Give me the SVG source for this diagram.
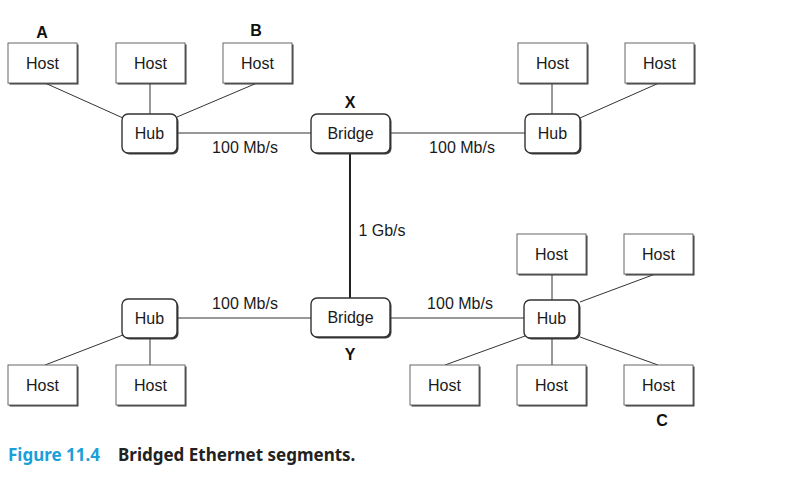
<svg xmlns="http://www.w3.org/2000/svg" width="798" height="481" viewBox="0 0 798 481">
<style>
.sh{fill:#3a3a3a}
.host{fill:#fff;stroke:#666;stroke-width:1}
.dev{fill:#fff;stroke:#333;stroke-width:1.4}
.t{font-family:"Liberation Sans",Arial,sans-serif;font-size:16px;fill:#1a1a1a;text-anchor:middle}
.lb{font-family:"Liberation Sans",Arial,sans-serif;font-size:16px;font-weight:bold;fill:#111;text-anchor:middle}
.ln{stroke:#333;stroke-width:1;fill:none}
.cap{font-family:"Noto Sans","Open Sans",sans-serif;font-size:17px;font-weight:bold}
</style>
<defs>
<g id="hostbox"><rect class="sh" x="1.5" y="1.5" width="69" height="40"/><rect class="host" x="0" y="0" width="69" height="40"/><text class="t" x="34.5" y="25.5">Host</text></g>
</defs>
<rect width="798" height="481" fill="#fff"/>
<g id="connectors">
<line class="ln" x1="45" y1="83" x2="123" y2="118"/>
<line class="ln" x1="150" y1="83" x2="150" y2="114"/>
<line class="ln" x1="257" y1="83" x2="177" y2="117"/>
<line class="ln" x1="177" y1="133" x2="311" y2="133"/>
<line class="ln" x1="390" y1="133" x2="525" y2="133"/>
<line x1="350" y1="153" x2="350" y2="298" stroke="#222" stroke-width="2"/>
<line class="ln" x1="552" y1="83" x2="552" y2="114"/>
<line class="ln" x1="659" y1="83" x2="580" y2="118"/>
<line class="ln" x1="123" y1="335" x2="45" y2="365"/>
<line class="ln" x1="150" y1="338" x2="150" y2="365"/>
<line class="ln" x1="177" y1="318" x2="311" y2="318"/>
<line class="ln" x1="390" y1="318" x2="524" y2="318"/>
<line class="ln" x1="552" y1="273" x2="552" y2="300"/>
<line class="ln" x1="658" y1="273" x2="580" y2="302"/>
<line class="ln" x1="525" y1="336" x2="445" y2="365"/>
<line class="ln" x1="552" y1="338" x2="552" y2="365"/>
<line class="ln" x1="580" y1="337" x2="658" y2="365"/>
</g>
<g id="host-a"><use href="#hostbox" x="8" y="43"/></g>
<g id="host-2"><use href="#hostbox" x="116" y="43"/></g>
<g id="host-b"><use href="#hostbox" x="223" y="43"/></g>
<g id="host-tr1"><use href="#hostbox" x="518" y="43"/></g>
<g id="host-tr2"><use href="#hostbox" x="625" y="43"/></g>
<g id="host-bl1"><use href="#hostbox" x="8" y="365"/></g>
<g id="host-bl2"><use href="#hostbox" x="116" y="365"/></g>
<g id="host-br-u1"><use href="#hostbox" x="517" y="234"/></g>
<g id="host-br-u2"><use href="#hostbox" x="624" y="234"/></g>
<g id="host-br1"><use href="#hostbox" x="410" y="365"/></g>
<g id="host-br2"><use href="#hostbox" x="517" y="365"/></g>
<g id="host-c"><use href="#hostbox" x="624" y="365"/></g>
<g id="hub-tl"><rect class="sh" x="123.5" y="115.5" width="55" height="39" rx="6"/><rect class="dev" x="122" y="114" width="55" height="39" rx="6"/><text class="t" x="149.5" y="139">Hub</text></g>
<g id="bridge-x"><rect class="sh" x="312.5" y="115.5" width="79" height="39" rx="6"/><rect class="dev" x="311" y="114" width="79" height="39" rx="6"/><text class="t" x="350.5" y="139">Bridge</text></g>
<g id="hub-tr"><rect class="sh" x="526.5" y="115.5" width="55" height="39" rx="6"/><rect class="dev" x="525" y="114" width="55" height="39" rx="6"/><text class="t" x="552.5" y="139">Hub</text></g>
<g id="hub-bl"><rect class="sh" x="123.5" y="300.5" width="55" height="39" rx="6"/><rect class="dev" x="122" y="299" width="55" height="39" rx="6"/><text class="t" x="149.5" y="324">Hub</text></g>
<g id="bridge-y"><rect class="sh" x="312.5" y="299.5" width="79" height="39" rx="6"/><rect class="dev" x="311" y="298" width="79" height="39" rx="6"/><text class="t" x="350.5" y="323">Bridge</text></g>
<g id="hub-br"><rect class="sh" x="525.5" y="301.5" width="55" height="38" rx="6"/><rect class="dev" x="524" y="300" width="55" height="38" rx="6"/><text class="t" x="551.5" y="324">Hub</text></g>
<g id="labels">
<text class="lb" x="42" y="38">A</text>
<text class="lb" x="256" y="36">B</text>
<text class="lb" x="350" y="108">X</text>
<text class="lb" x="350" y="360">Y</text>
<text class="lb" x="662" y="426">C</text>
<text class="t" x="245" y="153">100 Mb/s</text>
<text class="t" x="462" y="153">100 Mb/s</text>
<text class="t" x="245" y="309">100 Mb/s</text>
<text class="t" x="460" y="309">100 Mb/s</text>
<text class="t" x="382" y="236">1 Gb/s</text>
</g>
<g id="caption">
<text class="cap" x="8" y="461"><tspan fill="#1a9fd8">Figure 11.4</tspan><tspan fill="#222" x="118">Bridged Ethernet segments.</tspan></text>
</g>
</svg>
